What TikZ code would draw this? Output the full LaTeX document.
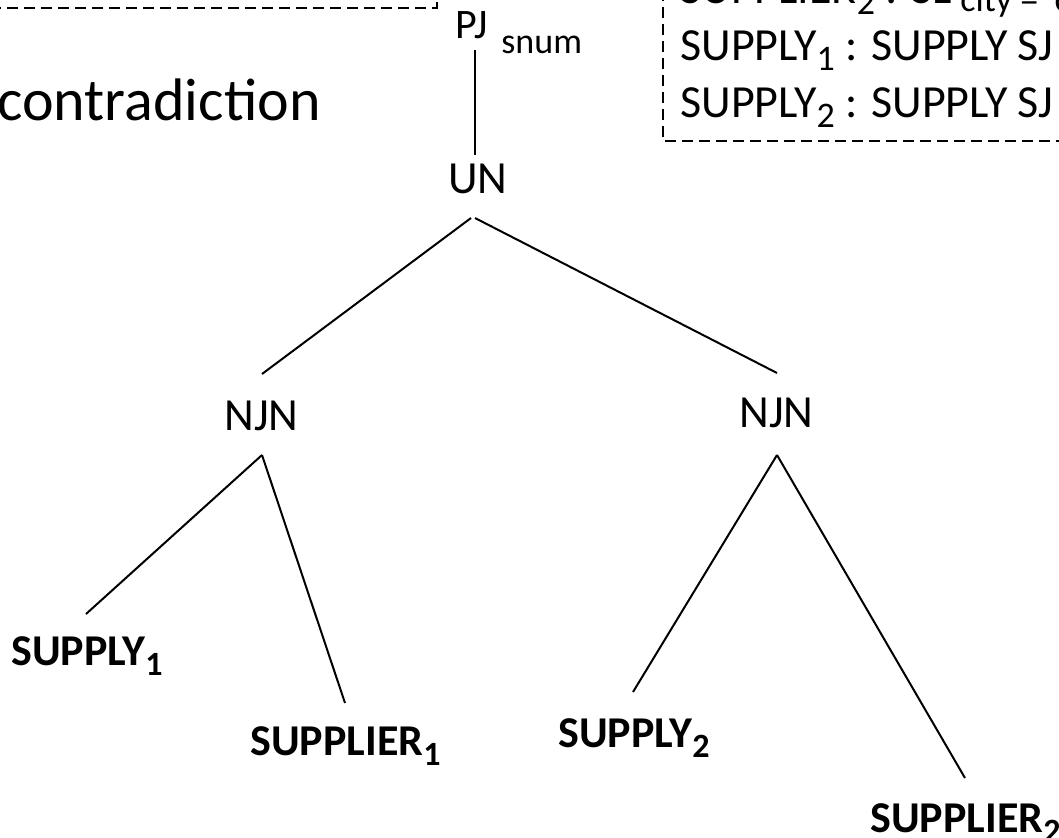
\documentclass[tikz,border=0pt]{standalone}
\usepackage{fontspec}
\setmainfont{Carlito}
\begin{document}
\begin{tikzpicture}[x=0.5pt,y=-0.5pt,
  lbl/.style={inner sep=0pt, anchor=base west, font=\fontsize{23}{27}\selectfont},
  small/.style={inner sep=0pt, anchor=base west, font=\fontsize{18}{22}\selectfont},
  leaf/.style={inner sep=0pt, anchor=base west, font=\fontsize{22}{26}\selectfont\bfseries},
  big/.style={inner sep=0pt, anchor=base west, font=\fontsize{30}{36}\selectfont},
  edge/.style={line width=1pt},
  dashline/.style={line width=1pt, dash pattern=on 5.5pt off 3pt}]
\useasboundingbox (0,0) rectangle (1059,837);
\clip (0,0) rectangle (1059,837);

% dashed box fragments
\coordinate (tl1) at (-10,8);
\coordinate (tl2) at (437,8);
\coordinate (tl3) at (437,-10);
\draw[dashline] (tl1) -- (tl2) -- (tl3);
\coordinate (tr1) at (663,-10);
\coordinate (tr2) at (663,141);
\coordinate (tr3) at (1070,141);
\draw[dashline] (tr1) -- (tr2) -- (tr3);

% box text
\node[lbl] (bx0) at (680,3) {SUPPLIER\raisebox{-5.5pt}{\fontsize{18}{18}\selectfont 2} : SL\raisebox{-4pt}{\fontsize{18}{18}\selectfont\ city =\ \ c}};
\node[lbl] (bx1) at (680,60) {SUPPLY\raisebox{-5pt}{\fontsize{18}{18}\selectfont 1} : SUPPLY SJ};
\node[lbl] (bx2) at (680,117) {SUPPLY\raisebox{-5pt}{\fontsize{18}{18}\selectfont 2} : SUPPLY SJ};

% contradiction
\node[big] (contra) at (-3,120) {contradiction};

% tree labels
\node[lbl, font=\fontsize{21}{25}\selectfont] (pj) at (455,38) {PJ};
\node[small] (snum) at (501,53) {snum};
\node[lbl] (un) at (448,193) {UN};
\node[lbl] (njl) at (224,430) {NJN};
\node[lbl] (njr) at (739,427) {NJN};
\node[leaf] (s1) at (11,665) {SUPPLY\raisebox{-5pt}{\fontsize{17}{17}\selectfont 1}};
\node[leaf] (sr1) at (250,755) {SUPPLIER\raisebox{-5pt}{\fontsize{17}{17}\selectfont 1}};
\node[leaf] (s2) at (558,747) {SUPPLY\raisebox{-5pt}{\fontsize{17}{17}\selectfont 2}};
\node[leaf] (sr2) at (870,832) {SUPPLIER\raisebox{-5pt}{\fontsize{17}{17}\selectfont 2}};

% connector ends
\coordinate (pjb) at (475,50);
\coordinate (unt) at (475,155);
\coordinate (unbl) at (471,218);
\coordinate (unbr) at (475,218);
\coordinate (njlt) at (262,374);
\coordinate (njrt) at (777,373);
\coordinate (njlb) at (262,455);
\coordinate (njrb) at (777,455);
\coordinate (s1t) at (86,614);
\coordinate (sr1t) at (345,703);
\coordinate (s2t) at (633,692);
\coordinate (sr2t) at (965,778);

\draw[edge] (pjb) -- (unt);
\draw[edge] (unbl) -- (njlt);
\draw[edge] (unbr) -- (njrt);
\draw[edge] (njlb) -- (s1t);
\draw[edge] (njlb) -- (sr1t);
\draw[edge] (njrb) -- (s2t);
\draw[edge] (njrb) -- (sr2t);
\end{tikzpicture}
\end{document}
